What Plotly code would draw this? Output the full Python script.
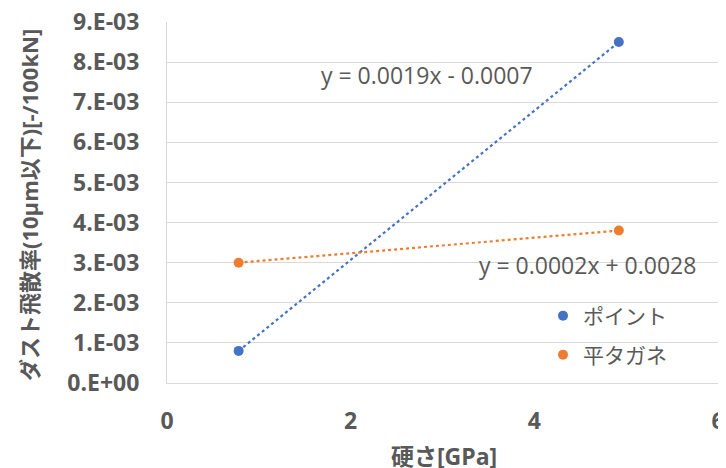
import numpy as np
import plotly.graph_objects as go

hardness = [0.78, 4.92]
point_dust = [0.0008, 0.0085]
flat_dust = [0.0030, 0.0038]
series_names = ["ポイント", "平タガネ"]
eq_labels = ["y = 0.0019x - 0.0007", "y = 0.0002x + 0.0028"]
y_ticks = [i * 0.001 for i in range(10)]
y_tick_text = ["0.E+00"] + [f"{i}.E-03" for i in range(1, 10)]
x_ticks = [0, 2, 4, 6]

FONT = "Open Sans, Noto Sans CJK JP, sans-serif"
GREY = "#595959"
BLUE = "#4472C4"
ORANGE = "#ED7D31"

fig = go.Figure()

fig.add_trace(go.Scatter(x=hardness, y=point_dust, mode="markers", name=series_names[0],
                         marker=dict(color=BLUE, size=10), legend="legend"))
fig.add_trace(go.Scatter(x=hardness, y=flat_dust, mode="markers", name=series_names[1],
                         marker=dict(color=ORANGE, size=10), legend="legend2"))
for ys, col in [(point_dust, BLUE), (flat_dust, ORANGE)]:
    k, b = np.polyfit(hardness, ys, 1)
    xs = np.array(hardness)
    fig.add_trace(go.Scatter(x=xs, y=k * xs + b, mode="lines", showlegend=False,
                             line=dict(color=col, width=2.2, dash="dot"), hoverinfo="skip"))

OFF = 8  # page body margin
FW, FH = 726 - OFF, 468 - OFF
L, T, W, H = 167, 22, 551, 361  # plot area in page pixels


def px(x):
    return (x - L) / W


def py(y):
    return (T + H - y) / H


leg_common = dict(xanchor="left", yanchor="middle", font=dict(size=21, color=GREY, family=FONT),
                  bgcolor="rgba(0,0,0,0)", itemwidth=30)

fig.update_layout(
    width=FW, height=FH,
    margin=dict(l=L - OFF, r=FW - (L - OFF) - W, t=T - OFF, b=FH - (T - OFF) - H),
    paper_bgcolor="white", plot_bgcolor="white",
    font=dict(family=FONT, color=GREY),
    showlegend=True,
    legend=dict(x=px(543), y=py(316), **leg_common),
    legend2=dict(x=px(543), y=py(355), **leg_common),
    xaxis=dict(range=[0, 6], tickvals=x_ticks, showgrid=False, zeroline=False,
               showline=True, linecolor="#D9D9D9", linewidth=1, automargin=False,
               ticks="", ticklabelstandoff=17, ticklabeloverflow="allow",
               tickfont=dict(size=23, color=GREY, family=FONT, weight="bold")),
    yaxis=dict(range=[0, 0.009], tickvals=y_ticks, ticktext=y_tick_text,
               showgrid=True, gridcolor="#D9D9D9", gridwidth=1, zeroline=False,
               showline=True, linecolor="#D9D9D9", linewidth=1, automargin=False,
               ticks="", ticklabelstandoff=22, ticklabeloverflow="allow",
               tickfont=dict(size=23, color=GREY, family=FONT, weight="bold")),
    annotations=[
        dict(text=eq_labels[0], xref="paper", yref="paper", x=px(427), y=py(75),
             xanchor="center", yanchor="middle",
             showarrow=False, font=dict(size=23, color=GREY, family=FONT)),
        dict(text=eq_labels[1], xref="paper", yref="paper", x=px(587), y=py(265),
             xanchor="center", yanchor="middle",
             showarrow=False, font=dict(size=23, color=GREY, family=FONT)),
        dict(text="ダスト飛散率(10μm以下)[-/100kN]", xref="paper", yref="paper",
             x=px(29), y=py(205), textangle=-90, xanchor="center", yanchor="middle",
             showarrow=False,
             font=dict(size=22, color=GREY, family=FONT, weight="bold")),
        dict(text="硬さ[GPa]", xref="paper", yref="paper",
             x=px(444), y=py(456), xanchor="center", yanchor="middle", showarrow=False,
             font=dict(size=23, color=GREY, family=FONT, weight="bold")),
    ],
)

fig.write_html("out.html")
